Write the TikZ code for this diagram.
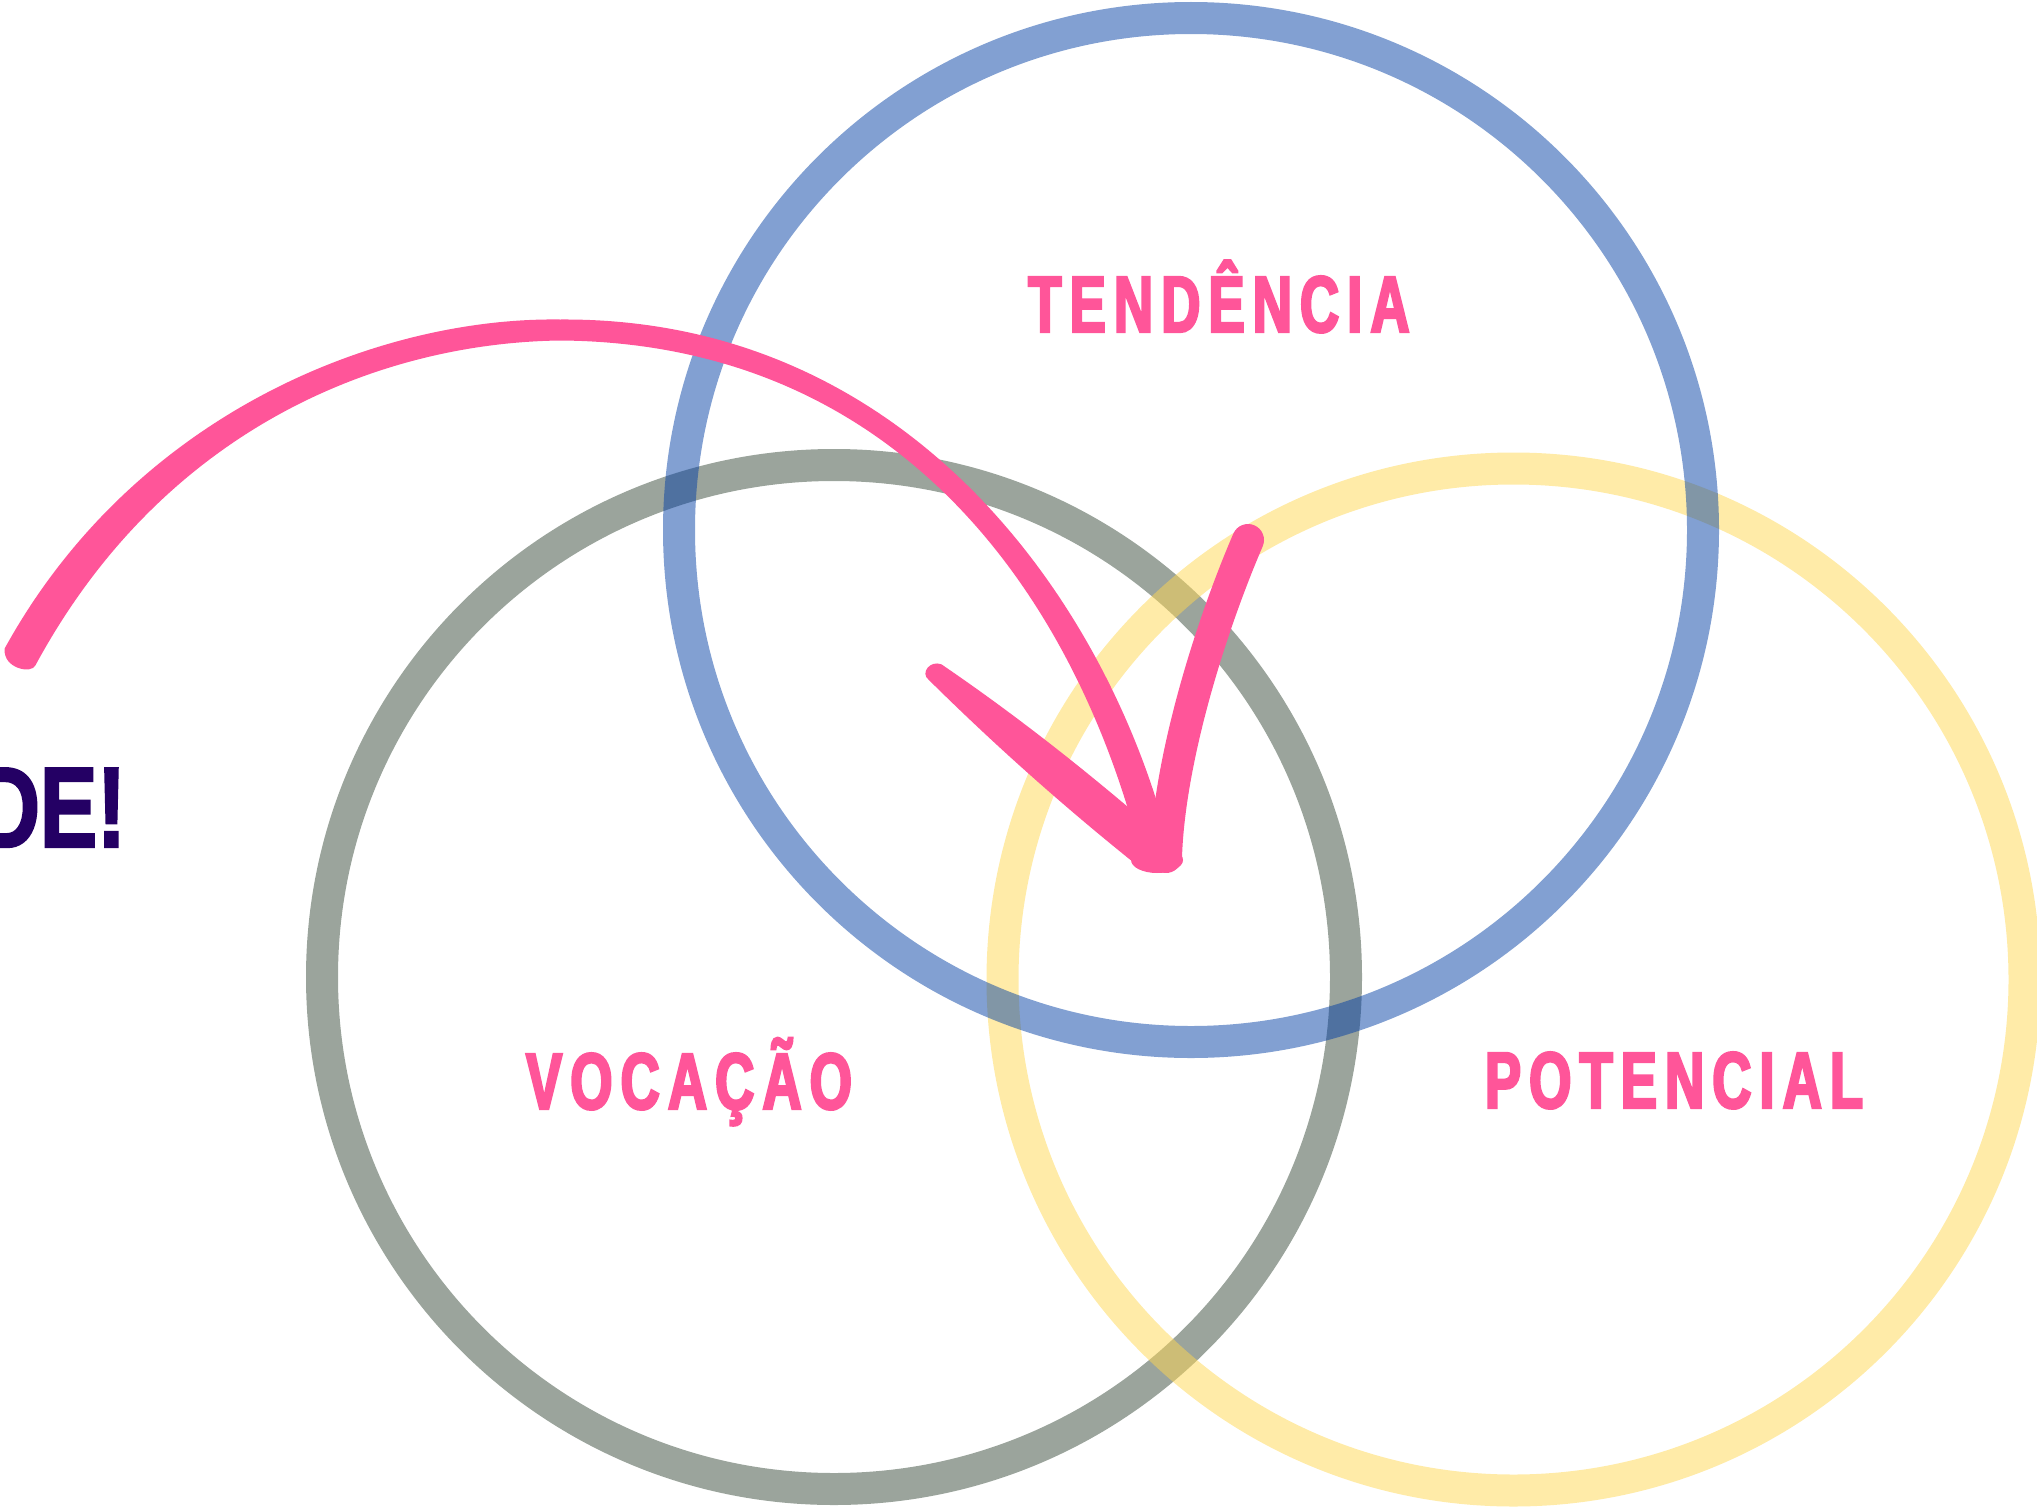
\documentclass[tikz,border=0pt]{standalone}
\usepackage{fontspec}
\newfontfamily\lblfont{Liberation Sans}[FakeStretch=0.68,FakeBold=3,LetterSpace=10]
\newfontfamily\dfont{Liberation Sans}[FakeStretch=0.75,FakeBold=2]
\definecolor{pinkc}{RGB}{255,85,153}
\definecolor{purplec}{RGB}{36,0,100}
\definecolor{grayc}{RGB}{55,73,57}
\definecolor{yellowc}{RGB}{255,215,81}
\definecolor{bluec}{RGB}{5,65,165}
\tikzset{
  ring/.style={line width=32pt, draw opacity=0.5},
  lbl/.style={text=pinkc, font=\lblfont\bfseries\fontsize{80}{96}\selectfont, inner sep=0pt, anchor=base},
  brush/.style={fill=pinkc, draw=none}
}
\begin{document}
\begin{tikzpicture}[x=1pt,y=-1pt]
\useasboundingbox (0,0) rectangle (2037,1512);
% circles
\draw[ring, draw=grayc] (834,977) circle[radius=512];
\draw[ring, draw=yellowc] (1513.5,979.5) circle[radius=511];
\draw[ring, draw=bluec] (1191,530) circle[radius=512];
% labels
\node[lbl] (tend) at (1219,332) {TENDÊNCIA};
\node[lbl] (voc) at (689,1109) {VOCAÇÃO};
\node[lbl] (pot) at (1674,1108) {POTENCIAL};
\node[text=purplec, font=\dfont\bfseries\fontsize{114.5}{130}\selectfont, inner sep=0pt, anchor=base east] (de) at (126,847) {DE!};
% pink swoosh (main arc), variable width brush
\fill[brush]
  (4.6,648.6) .. controls (134.8,412.0) and (380,317) .. (560,319.5)
  .. controls (910,317) and (1108.3,603.8) .. (1169.55,846.3)
  -- (1140.45,853.7)
  .. controls (1079.2,611.2) and (910,343) .. (560,340.5)
  .. controls (380,343) and (163.8,427.8) .. (35.4,665.4)
  .. controls (32,674) and (3,669) .. (4.6,648.6) -- cycle;
% right stroke of the check
\coordinate (rbot) at (1166,857);
\coordinate (rtop) at (1248,540);
\draw[pinkc, line width=32pt, line cap=round]
  (rbot) .. controls (1169,762) and (1208.5,631.9) .. (rtop);
% left wing of the check
\fill[brush]
  (941.4,664.3) .. controls (1014.5,714.1) and (1085.4,769.8) .. (1156,831)
  -- (1133,862)
  .. controls (1058.6,802.2) and (991.5,741.9) .. (928.6,679.7)
  .. controls (920,673) and (930,660) .. (941.4,664.3) -- cycle;
% tip blob
\fill[brush] (1157,860) ellipse[x radius=26, y radius=13];
\end{tikzpicture}
\end{document}
